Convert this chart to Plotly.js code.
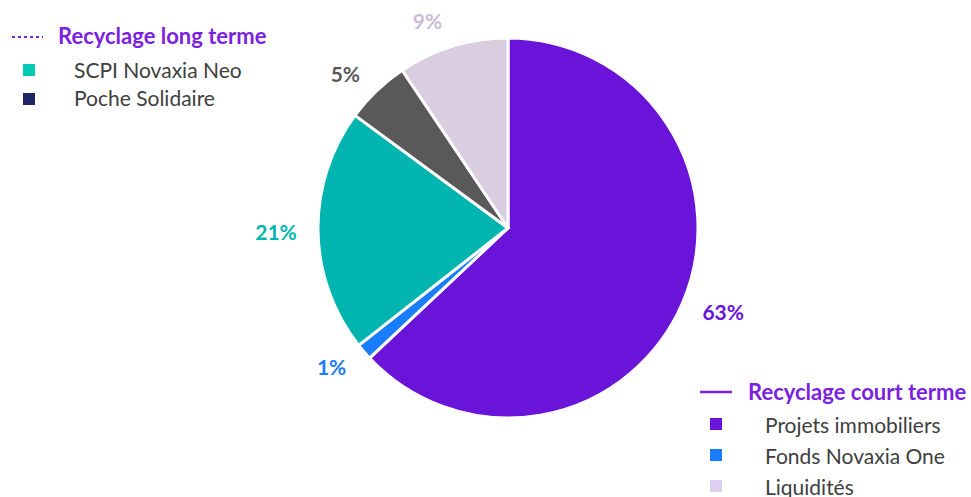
<!DOCTYPE html>
<html>
<head>
<meta charset="utf-8">
<script src="https://cdn.plot.ly/plotly-3.0.1.min.js"></script>
<style>html,body{margin:0;padding:0;background:#fff;}#chart{width:971px;height:497px;}</style>
</head>
<body>
<div id="chart"></div>
<script>
// Data
const categories = ["Projets immobiliers", "Fonds Novaxia One", "SCPI Novaxia Neo", "Poche Solidaire", "Liquidités"];
const values = [63.0, 1.4, 20.7, 5.5, 9.4];
const valueLabels = ["63%", "1%", "21%", "5%", "9%"];
const sliceColors = ["#6a14d9", "#1a7dff", "#00b5b0", "#595959", "#d9cde0"];
const labelColors = ["#6a14d9", "#1a7dff", "#00b5b0", "#595959", "#cbbcd8"];

const longTitle = "Recyclage long terme";
const longItems = ["SCPI Novaxia Neo", "Poche Solidaire"];
const longColors = ["#00c9b5", "#1f2466"];
const shortTitle = "Recyclage court terme";
const shortItems = ["Projets immobiliers", "Fonds Novaxia One", "Liquidités"];
const shortColors = ["#6a14d9", "#1a7dff", "#ddd0f0"];

const FONT = "Lato, 'Open Sans', sans-serif";
const HEAD = "#7b1fe0";
const TXT = "#404040";

const W = 971, H = 497;
const px = x => x / W, py = y => 1 - y / H;

// visible pie
const pieTrace = {
  type: "pie",
  labels: categories,
  values: values,
  textinfo: "none",
  sort: false,
  direction: "clockwise",
  rotation: 0,
  marker: {colors: sliceColors, line: {color: "#ffffff", width: 3}},
  domain: {x: [px(318), px(698)], y: [py(418), py(38)]},
  showlegend: false,
  hoverinfo: "none"
};

// transparent, slightly larger pie that only carries the outside value labels
const labelTrace = {
  type: "pie",
  labels: categories,
  values: values,
  text: valueLabels,
  texttemplate: "%{text}",
  textposition: "outside",
  textfont: {family: FONT, size: 21, color: labelColors, weight: "bold"},
  sort: false,
  direction: "clockwise",
  rotation: 0,
  marker: {colors: categories.map(() => "rgba(0,0,0,0)"), line: {width: 0}},
  domain: {x: [px(303), px(713)], y: [py(433), py(23)]},
  showlegend: false,
  hoverinfo: "none"
};

const annotations = [];
const shapes = [];

// long-term legend
shapes.push({type: "line", xref: "paper", yref: "paper", x0: px(12), x1: px(43), y0: py(37), y1: py(37),
  line: {color: HEAD, width: 2, dash: "dot"}});
annotations.push({xref: "paper", yref: "paper", x: px(56), y: py(35), xanchor: "left", yanchor: "middle",
  text: "<b>" + longTitle + "</b>", showarrow: false, font: {family: FONT, size: 22, color: HEAD}});
longItems.forEach((t, i) => {
  const yy = 69 + i * 29;
  shapes.push({type: "rect", xref: "paper", yref: "paper", x0: px(23), x1: px(35), y0: py(yy - 5), y1: py(yy + 7),
    fillcolor: longColors[i], line: {width: 0}});
  annotations.push({xref: "paper", yref: "paper", x: px(72), y: py(yy), xanchor: "left", yanchor: "middle",
    text: t, showarrow: false, font: {family: FONT, size: 21, color: TXT}});
});

// short-term legend
shapes.push({type: "line", xref: "paper", yref: "paper", x0: px(700), x1: px(732), y0: py(392), y1: py(392),
  line: {color: HEAD, width: 2.5}});
annotations.push({xref: "paper", yref: "paper", x: px(746), y: py(391), xanchor: "left", yanchor: "middle",
  text: "<b>" + shortTitle + "</b>", showarrow: false, font: {family: FONT, size: 22, color: HEAD}});
shortItems.forEach((t, i) => {
  const yy = 424 + i * 31;
  shapes.push({type: "rect", xref: "paper", yref: "paper", x0: px(710), x1: px(722), y0: py(yy - 6), y1: py(yy + 6),
    fillcolor: shortColors[i], line: {width: 0}});
  annotations.push({xref: "paper", yref: "paper", x: px(763), y: py(yy), xanchor: "left", yanchor: "middle",
    text: t, showarrow: false, font: {family: FONT, size: 21, color: TXT}});
});

const layout = {
  width: W, height: H,
  margin: {l: 0, r: 0, t: 0, b: 0},
  paper_bgcolor: "#ffffff",
  plot_bgcolor: "#ffffff",
  showlegend: false,
  annotations: annotations,
  shapes: shapes,
  font: {family: FONT}
};

Plotly.newPlot("chart", [pieTrace, labelTrace], layout, {displayModeBar: false, staticPlot: true});
</script>
</body>
</html>
